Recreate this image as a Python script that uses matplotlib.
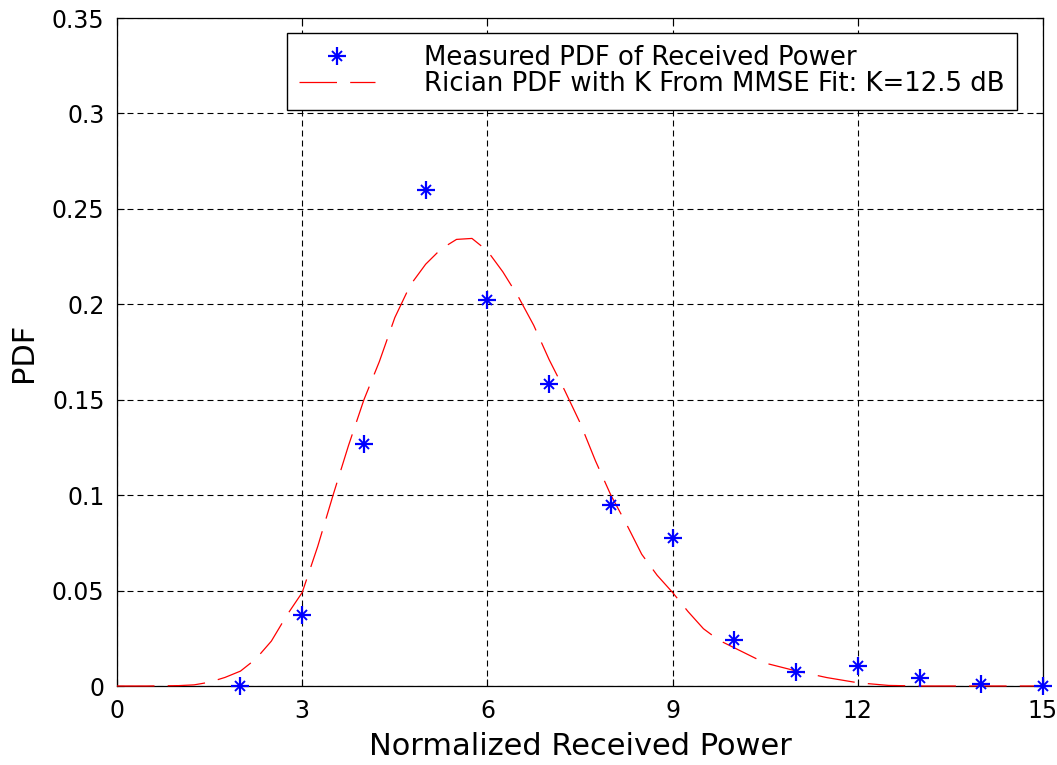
import matplotlib
matplotlib.use("Agg")
import matplotlib.pyplot as plt
from matplotlib.legend_handler import HandlerTuple

plt.rcParams["font.family"] = ["DejaVu Sans"]
plt.rcParams["lines.scale_dashes"] = False

# Measured PDF of the normalized received power
measured_x = [2, 3, 4, 5, 6, 7, 8, 9, 10, 11, 12, 13, 14, 15]
measured_pdf = [0.0, 0.037, 0.127, 0.260, 0.202, 0.158, 0.095, 0.0775,
                0.024, 0.0075, 0.0105, 0.0044, 0.0012, 0.0]

# Rician PDF fitted with the MMSE K factor
rician_x = [0, 0.5, 1.0, 1.25, 1.5, 1.75, 2.0, 2.25, 2.5, 2.75, 3.0, 3.25,
            3.5, 3.75, 4.0, 4.25, 4.5, 4.75, 5.0, 5.25, 5.5, 5.75, 6.0,
            6.25, 6.5, 6.75, 7.0, 7.25, 7.5, 7.75, 8.0, 8.25, 8.5, 8.75,
            9.0, 9.25, 9.5, 9.75, 10.0, 10.5, 11.0, 11.5, 12.0, 12.5, 13.0,
            14.0, 15.0]
rician_pdf = [0.0, 0.0, 0.0002, 0.0006, 0.002, 0.0045, 0.0078, 0.0142,
              0.0235, 0.037, 0.049, 0.073, 0.100, 0.126, 0.150, 0.170,
              0.193, 0.210, 0.221, 0.229, 0.234, 0.2345, 0.228, 0.217,
              0.204, 0.189, 0.171, 0.155, 0.138, 0.118, 0.100, 0.085,
              0.069, 0.058, 0.049, 0.039, 0.030, 0.024, 0.020, 0.012,
              0.0079, 0.0044, 0.0017, 0.0003, 0.0, 0.0, 0.0]

x_ticks = [0, 3, 6, 9, 12, 15]
y_ticks = [0, 0.05, 0.1, 0.15, 0.2, 0.25, 0.3, 0.35]
y_tick_labels = ["0", "0.05", "0.1", "0.15", "0.2", "0.25", "0.3", "0.35"]

fig = plt.figure(figsize=(10.57, 7.65), dpi=100)
ax = fig.add_axes([117 / 1057, 79 / 765, 926 / 1057, 668 / 765])

# asterisk marker: long upright cross plus shorter diagonal strokes
plus, = ax.plot(measured_x, measured_pdf, linestyle="none", marker="+",
                markersize=13, markeredgewidth=1.6, color="#0000ff",
                clip_on=False, zorder=4)
cross, = ax.plot(measured_x, measured_pdf, linestyle="none", marker="x",
                 markersize=7, markeredgewidth=1.4, color="#0000ff",
                 clip_on=False, zorder=4)
curve, = ax.plot(rician_x, rician_pdf, color="#ff0000", linewidth=0.9,
                 linestyle=(0, (27, 9.5)), clip_on=False, zorder=3)

ax.set_xlim(0, 15)
ax.set_ylim(0, 0.35)
ax.set_xticks(x_ticks)
ax.set_yticks(y_ticks)
ax.set_yticklabels(y_tick_labels)
ax.tick_params(direction="in", length=5, width=0.8, top=True, right=True,
               labelsize=17, pad=9, colors="black")
ax.grid(True, color="black", linewidth=0.8, linestyle=(0, (4.3, 2.9)))
for s in ax.spines.values():
    s.set_linewidth(0.9)

ax.set_xlabel("Normalized Received Power", fontsize=22, labelpad=7)
ax.set_ylabel("PDF", fontsize=22, labelpad=10)

leg = ax.legend([(plus, cross), curve],
                ["Measured PDF of Received Power",
                 "Rician PDF with K From MMSE Fit: K=12.5 dB"],
                handler_map={tuple: HandlerTuple(ndivide=1, pad=0)},
                loc="upper right", bbox_to_anchor=(0.972, 0.9775),
                borderaxespad=0, fontsize=18.7, fancybox=False,
                framealpha=1, edgecolor="black", handlelength=2.9,
                handletextpad=1.9, labelspacing=0.0, borderpad=0.48)
leg.get_frame().set_linewidth(1.0)

fig.savefig("out.png", dpi=100)
